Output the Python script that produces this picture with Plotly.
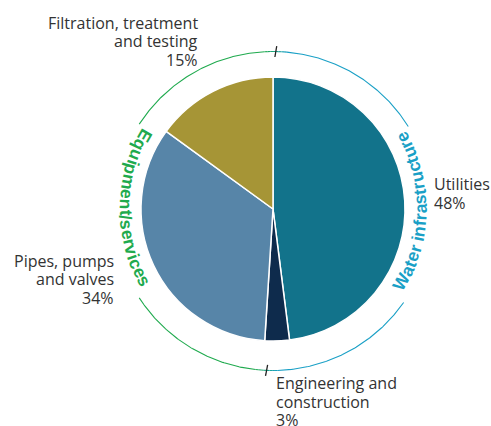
import math
import plotly.graph_objects as go

# ---------------- data ----------------
categories = ["Utilities", "Engineering and construction",
              "Pipes, pumps and valves", "Filtration, treatment and testing"]
values = [48, 3, 34, 15]
slice_colors = ["#12738B", "#0E2B4C", "#5785A8", "#A69536"]
label_lines = [["Utilities", "48%"],
               ["Engineering and", "construction", "3%"],
               ["Pipes, pumps", "and valves", "34%"],
               ["Filtration, treatment", "and testing", "15%"]]
group_names = ["Water infrastructure", "Equipment/services"]
group_colors = ["#1AA0C6", "#1FAA4E"]

# ---------------- layout geometry ----------------
W, H = 491, 426
CX, CY, R = 273, 209, 132          # pie
ACX, ACY, AR = 273, 211, 159.5     # outer ring
TEXT_R = 147.5
LABEL_FONT = "Open Sans"
TXT = "#333333"

# label anchors: (x, first baseline, anchor)
label_pos = [(432, 190, "left"), (274, 389, "left"),
             (116, 266.5, "right"), (200, 28.5, "right")]
LINE_STEP = 18.5

fig = go.Figure()

fig.add_trace(go.Pie(
    labels=categories, values=values, sort=False, direction="clockwise",
    rotation=0, marker=dict(colors=slice_colors, line=dict(color="white", width=1.5)),
    textinfo="none", hoverinfo="none", showlegend=False,
    domain=dict(x=[(CX - R) / W, (CX + R) / W], y=[1 - (CY + R) / H, 1 - (CY - R) / H]),
))


def pt(r, deg):
    t = math.radians(deg)
    return ACX + r * math.sin(t), ACY - r * math.cos(t)


def hex2rgb(h):
    h = h.lstrip("#")
    return [int(h[i:i + 2], 16) for i in (0, 2, 4)]


def mix(c1, c2, f):
    a, b = hex2rgb(c1), hex2rgb(c2)
    return "rgb(%d,%d,%d)" % tuple(round(a[i] + (b[i] - a[i]) * f) for i in range(3))


def arc(a0, a1, color, n=None):
    n = n or max(4, int(abs(a1 - a0) * 2))
    xs, ys = [], []
    for i in range(n + 1):
        x, y = pt(AR, a0 + (a1 - a0) * i / n)
        xs.append(x); ys.append(y)
    fig.add_trace(go.Scatter(x=xs, y=ys, mode="lines", line=dict(color=color, width=1.1),
                             hoverinfo="skip", showlegend=False))


teal, green = group_colors
TOP_T, BOT_T, BL = 1.0, 182.3, 4.0
# solid parts
arc(TOP_T + BL, 58, teal)
arc(125, BOT_T - BL, teal)
arc(BOT_T + BL, 237, green)
arc(303, 360 + TOP_T - BL, green)
# gradient transitions
steps = 8
for i in range(steps):
    a0 = -BL + 2 * BL * i / steps
    a1 = -BL + 2 * BL * (i + 1) / steps
    f = (i + 0.5) / steps
    arc(360 + TOP_T + a0, 360 + TOP_T + a1, mix(green, teal, f), 2)
    arc(BOT_T + a0, BOT_T + a1, mix(teal, green, f), 2)

# tick marks
for t in (TOP_T, BOT_T):
    x0, y0 = pt(154, t - 0.3)
    x1, y1 = pt(165, t + 0.3)
    fig.add_trace(go.Scatter(x=[x0, x1], y=[y0, y1], mode="lines",
                             line=dict(color="#222222", width=1.3),
                             hoverinfo="skip", showlegend=False))

annotations = []
# slice labels
for lines, (lx, by, anc) in zip(label_lines, label_pos):
    for k, s in enumerate(lines):
        annotations.append(dict(x=lx, y=by + k * LINE_STEP - 6, xref="x", yref="y",
                                text=s, showarrow=False, xanchor=anc, yanchor="middle",
                                font=dict(family=LABEL_FONT, size=16, color=TXT)))

# curved group text
bold_w = {"W": 944, "a": 556, "t": 333, "e": 556, "r": 389, " ": 278, "i": 278, "n": 611,
          "f": 333, "s": 556, "u": 611, "c": 556, "E": 667, "q": 611, "p": 611, "m": 889,
          "/": 278, "v": 556}
FS = 17.5


def curved(text, center_deg, color):
    widths = [bold_w.get(ch, 556) / 1000 * FS for ch in text]
    total = sum(widths)
    rr = TEXT_R + 3
    span = math.degrees(total / rr)
    cum = 0
    for ch, w in zip(text, widths):
        th = center_deg + span / 2 - math.degrees((cum + w / 2) / rr)
        cum += w
        if ch == " ":
            continue
        x = CX + TEXT_R * math.sin(math.radians(th))
        y = CY - TEXT_R * math.cos(math.radians(th))
        ang = (th + 180) % 360
        if ang > 180:
            ang -= 360
        annotations.append(dict(x=x, y=y, xref="x", yref="y", text=ch, showarrow=False,
                                xanchor="center", yanchor="middle", textangle=ang,
                                font=dict(family="Liberation Sans", size=FS, color=color,
                                          weight="bold")))


curved(group_names[0], 91, group_colors[0])
curved(group_names[1], 270.5, group_colors[1])

fig.update_layout(
    width=W, height=H, margin=dict(l=0, r=0, t=0, b=0),
    paper_bgcolor="white", plot_bgcolor="white",
    xaxis=dict(range=[0, W], visible=False, fixedrange=True),
    yaxis=dict(range=[H, 0], visible=False, fixedrange=True),
    annotations=annotations, showlegend=False,
)

fig.write_html("out.html", config={"displayModeBar": False},
               post_script="document.body.style.margin='0';document.body.style.overflow='hidden';")
